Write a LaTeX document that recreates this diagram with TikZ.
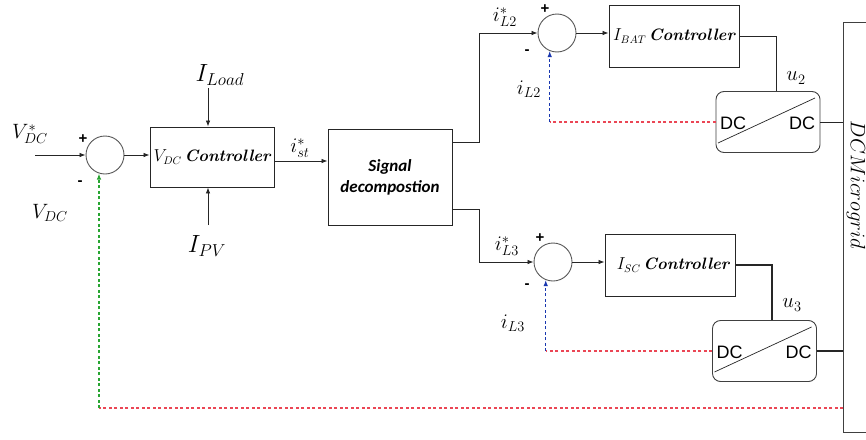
\documentclass[tikz,border=0pt]{standalone}
\usepackage{fontspec}
\newfontfamily\carlito{Carlito}
\newfontfamily\lsans{Liberation Sans}
\usetikzlibrary{arrows.meta,calc}
\definecolor{fbred}{RGB}{235,70,85}
\definecolor{fbblue}{RGB}{25,55,175}
\definecolor{fbgreen}{RGB}{40,165,50}
\begin{document}
\begin{tikzpicture}[x=1pt,y=-1pt,
  blk/.style={draw=black!85, line width=0.9pt, minimum width=124pt, minimum height=60pt, inner sep=0pt},
  sumc/.style={circle, draw=black!65, line width=0.9pt, minimum size=38pt, inner sep=0pt},
  conv/.style={draw=black!75, line width=0.9pt, rounded corners=8pt, minimum width=104pt, minimum height=61pt, inner sep=0pt},
  lab/.style={font=\fontsize{22}{24}\selectfont, inner sep=0pt},
  sgn/.style={font=\lsans\bfseries\fontsize{15}{16}\selectfont, inner sep=0pt},
  ln/.style={line width=0.8pt, black!85},
  arr/.style={ln, -{Latex[length=6pt,width=4.5pt]}},
  thk/.style={line width=1.8pt},
  rdash/.style={draw=fbred, line width=1.1pt, dash pattern=on 3pt off 2.5pt},
  bdash/.style={draw=fbblue, line width=1.1pt, dash pattern=on 3pt off 2.5pt, -{Latex[length=6pt,width=4.5pt]}},
  gdash/.style={draw=fbgreen, line width=1.1pt, dash pattern=on 3pt off 2.5pt, -{Latex[length=6pt,width=4.5pt]}},
  dctext/.style={font=\lsans\fontsize{18}{20}\selectfont, inner sep=0pt},
  ctltext/.style={font=\fontsize{16.5}{18}\selectfont\bfseries\itshape}
]
\clip (0,0) rectangle (866,439);
\fill[white] (0,0) rectangle (866,439);

% blocks
\node[sumc] (s1) at (105,155) {};
\node[blk, ctltext] (ctl1) at (212,157) {{\mdseries\upshape\fontsize{16}{18}\selectfont$V_{DC}$}\,Controller};
\node[blk, minimum width=124pt, minimum height=96pt, align=center, font=\carlito\bfseries\itshape\fontsize{17}{21}\selectfont] (sig) at (390,177) {Signal\\decompostion};
\node[sumc] (s2) at (557,33) {};
\node[sumc] (s3) at (553,262) {};
\node[blk, ctltext, minimum width=130pt, minimum height=62pt] (bat) at (674,36) {{\mdseries\upshape\fontsize{16}{18}\selectfont$I_{BAT}$}\,Controller};
\node[blk, ctltext, minimum width=130pt, minimum height=62pt] (sc) at (670,265) {\hspace*{6pt}{\mdseries\upshape\fontsize{16}{18}\selectfont$I_{SC}$}\,Controller};
\node[conv] (dc1) at (768,122) {};
\node[conv] (dc2) at (764.5,351) {};
\node[draw=black!75, line width=0.9pt, minimum width=60pt, minimum height=410pt, anchor=north west, inner sep=0pt] (mg) at (843,22) {};
\node[lab, rotate=-90, font=\fontsize{21}{24}\selectfont] (mgt) at (856,185) {$DCMicrogrid$};

% converter contents
\node[dctext] (dc1l) at ($(dc1.center)+(-35,1)$) {DC};
\node[dctext] (dc1r) at ($(dc1.center)+(34,1)$) {DC};
\draw[ln, line width=0.7pt] ($(dc1.center)+(-50,21)$) -- ($(dc1.center)+(47,-24)$);
\node[dctext] (dc2l) at ($(dc2.center)+(-35,1)$) {DC};
\node[dctext] (dc2r) at ($(dc2.center)+(34,1)$) {DC};
\draw[ln, line width=0.7pt] ($(dc2.center)+(-50,21)$) -- ($(dc2.center)+(47,-24)$);

% labels
\node[lab] (lvref) at (30,134) {$V_{DC}^{*}$};
\node[lab] (lvdc) at (50,213) {$V_{DC}$};
\node[lab, font=\fontsize{23}{24}\selectfont] (lload) at (220,75) {$I_{Load}$};
\node[lab, font=\fontsize{23}{24}\selectfont] (lpv) at (207,246) {$I_{PV}$};
\node[lab] (lst) at (300,148) {$i_{st}^{*}$};
\node[lab] (ll2r) at (505,17) {$i_{L2}^{*}$};
\node[lab] (ll2) at (529,89) {$i_{L2}$};
\node[lab] (lu2) at (796,78) {$u_{2}$};
\node[lab] (ll3r) at (507,246) {$i_{L3}^{*}$};
\node[lab] (ll3) at (513,323) {$i_{L3}$};
\node[lab] (lu3) at (792,305) {$u_{3}$};

% signs
\node[sgn] (p1) at (83,139) {+};
\node[sgn] (m1) at (80,183) {-};
\node[sgn] (p2) at (545,9) {+};
\node[sgn] (m2) at (527,52) {-};
\node[sgn] (p3) at (540,238) {+};
\node[sgn] (m3) at (527,286) {-};

% connectors
\coordinate (vin) at (35,155);
\draw[arr] (vin) -- (s1.west);
\draw[arr] (s1.east) -- (s1.east -| ctl1.west);
\coordinate (ild) at (208,88);
\draw[arr] (ild) -- (ild |- ctl1.north);
\coordinate (ipv) at (208,225);
\draw[arr] (ipv) -- (ipv |- ctl1.south);
\coordinate (c1) at ($(ctl1.east)+(0,4)$);
\draw[arr] (c1) -- (c1 -| sig.west);
\coordinate (o1) at ($(sig.north east)+(0,14)$);
\coordinate (k1) at ($(o1)+(27,0)$);
\draw[ln,thk] (o1) -- (k1);
\draw[arr] (k1) |- (s2.west);
\coordinate (o2) at ($(sig.south east)+(0,-16)$);
\coordinate (k2) at ($(o2)+(27,0)$);
\draw[ln,thk] (o2) -- (k2);
\draw[arr] (k2) |- (s3.west);
\draw[arr] (s2.east) -- (s2.east -| bat.west);
\draw[arr] (s3.east) -- (s3.east -| sc.west);
\draw[ln] (bat.east) -| ($(dc1.north)+(8,0)$);
\draw[ln, line width=1.4pt] (sc.east) -| ($(dc2.north)+(7.5,0)$);
\draw[ln] (dc1.east) -- (dc1.east -| mg.west);
\draw[ln,thk] (dc2.east) -- (dc2.east -| mg.west);

% feedback
\coordinate (f2) at (s2.-112 |- dc1.west);
\draw[rdash] (dc1.west) -- (f2);
\draw[bdash] (f2) -- (s2.-112);
\coordinate (f3) at (s3.-112 |- dc2.west);
\draw[rdash] (dc2.west) -- (f3);
\draw[bdash] (f3) -- (s3.-112);
\coordinate (yfb) at (0,408);
\coordinate (f0) at (mg.west |- yfb);
\coordinate (f1) at (s1.-108 |- yfb);
\draw[rdash] (f0) -- (f1);
\draw[gdash] (f1) -- (s1.-108);
\end{tikzpicture}
\end{document}
